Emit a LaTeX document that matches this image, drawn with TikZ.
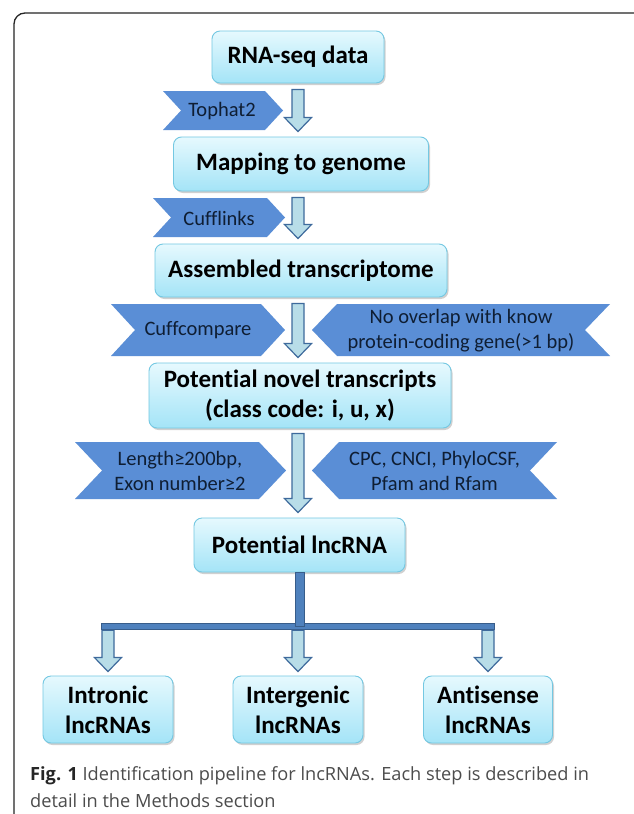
\documentclass[tikz,border=0pt]{standalone}
\usepackage{fontspec}
\setmainfont{Carlito}[Ligatures={NoCommon}]
\newfontfamily\capfont{Open Sans}
\usetikzlibrary{calc,shadows}
\definecolor{boxtop}{HTML}{E6F9FE}
\definecolor{boxbot}{HTML}{A4E4F7}
\definecolor{boxline}{HTML}{74C8E2}
\definecolor{chevfill}{HTML}{5A8ED6}
\definecolor{chevtext}{HTML}{0F1E33}
\definecolor{arrfill}{HTML}{B8DDE8}
\definecolor{arrline}{HTML}{3E6A9C}
\definecolor{barfill}{HTML}{4F81BD}
\definecolor{barline}{HTML}{385D8A}
\tikzset{
  stepbox/.style={draw=boxline, line width=0.9pt, rounded corners=8pt,
    top color=boxtop, bottom color=boxbot, align=center,
    font=\fontsize{25}{30}\selectfont\bfseries, text=black,
    drop shadow={shadow xshift=1.5pt, shadow yshift=-2pt, opacity=0.3, fill=black!60}},
  chevlabel/.style={font=\fontsize{20.5}{25}\selectfont, text=chevtext, align=center, inner sep=0pt},
  chevshape/.style={fill=chevfill},
  blockarr/.style={draw=arrline, fill=arrfill, line width=1.2pt, line join=miter},
  barsty/.style={draw=barline, fill=barfill, line width=1pt},
}
% block arrow: start point, tip point
\newcommand\barrow[2]{\path[blockarr] let \p1=#1, \p2=#2 in
  (\x1-6pt,\y1) -- (\x1+6pt,\y1) -- (\x1+6pt,\y2+14pt) -- (\x1+13.5pt,\y2+14pt)
  -- (\x1,\y2) -- (\x1-13.5pt,\y2+14pt) -- (\x1-6pt,\y2+14pt) -- cycle;}
% right-pointing chevron: x1,x2,yt,yb,depth
\newcommand\chevR[5]{\fill[chevshape] (#1,#3) -- (#2-#5,#3) -- (#2,{(#3+#4)/2}) -- (#2-#5,#4) -- (#1,#4) -- (#1+#5,{(#3+#4)/2}) -- cycle;}
% left-pointing chevron
\newcommand\chevL[5]{\fill[chevshape] (#1+#5,#3) -- (#2,#3) -- (#2-#5,{(#3+#4)/2}) -- (#2,#4) -- (#1+#5,#4) -- (#1,{(#3+#4)/2}) -- cycle;}
\begin{document}
\begin{tikzpicture}[x=1pt,y=-1pt]
\useasboundingbox (0,0) rectangle (633,814);
\fill[white] (0,0) rectangle (633,814);
% frame
\draw[line width=1.3pt, black!85, rounded corners=11pt] (14,820) -- (14,13) -- (645,13);

% main boxes
\node[stepbox, minimum width=172pt, minimum height=52pt] (rna) at (298,57) {RNA-seq data};
\node[stepbox, minimum width=255pt, minimum height=54pt] (map) at (301,164) {Mapping to genome};
\node[stepbox, minimum width=292pt, minimum height=53pt] (asm) at (301,270.5) {Assembled transcriptome};
\node[stepbox, minimum width=302pt, minimum height=65pt] (nov) at (300,395.5) {Potent\kern0pt ial novel transcripts\\(class code: i, u, x)};
\node[stepbox, minimum width=211pt, minimum height=54pt] (lnc) at (299.5,545) {Potent\kern0pt ial lncRNA};
\node[stepbox, minimum width=130pt, minimum height=67pt] (intr) at (108,709.5) {Intronic\\lncRNAs};
\node[stepbox, minimum width=130pt, minimum height=67pt] (intg) at (298,709.5) {Intergenic\\lncRNAs};
\node[stepbox, minimum width=129pt, minimum height=67pt] (anti) at (488,709.5) {Antisense\\lncRNAs};

% chevrons
\chevR{163}{283}{91}{130}{18}
\node[chevlabel] (tophat) at (222,111) {Tophat2};
\chevR{153}{285}{198}{237}{18}
\node[chevlabel] (cufflinks) at (219,218) {Cufflinks};
\chevR{111}{285}{304}{356}{24}
\node[chevlabel] (cuffcompare) at (198,330.5) {Cuffcompare};
\chevL{312}{610}{304}{356}{25}
\node[chevlabel] (nooverlap) at (461,331) {No overlap with know\\protein-coding gene(>1 bp)};
\chevR{75}{286}{442}{499}{27}
\node[chevlabel] (length) at (180,471) {Length≥200bp,\\Exon number≥2};
\chevL{312}{557}{442}{499}{27}
\node[chevlabel] (cpc) at (434.5,471) {CPC, CNCI, PhyloCSF,\\Pfam and Rfam};

% block arrows between steps
\barrow{($(rna.south)+(0,6)$)}{($(map.north)+(0,-5)$)}
\barrow{($(map.south)+(-3,6)$)}{($(asm.north)+(-3,-5)$)}
\barrow{($(asm.south)+(-3,6)$)}{($(nov.north)+(-3,-5)$)}
\barrow{($(nov.south)+(-2,5)$)}{($(lnc.north)+(-2,-5)$)}

% branch
\node[barsty, inner sep=0pt, minimum width=393pt, minimum height=6.5pt] (bar) at (297.5,626.5) {};
\path[barsty] let \p1=(lnc.south), \p2=(bar.center) in (\x1-4.5pt,\y1) rectangle (\x1+4.5pt,\y2);
\barrow{(bar.south -| intr.north)}{($(intr.north)+(0,-4)$)}
\barrow{(bar.south -| intg.north)}{($(intg.north)+(0,-4)$)}
\barrow{(bar.south -| anti.north)}{($(anti.north)+(0,-4)$)}

% caption
\node[anchor=west, align=left, inner sep=0pt, font=\capfont\fontsize{18.2}{27}\selectfont, text=black!70] (cap) at (30,787.5)
  {{\bfseries\color{black!85}Fig. 1} Identification pipeline for lncRNAs. Each step is described in\\detail in the Methods section};
\end{tikzpicture}
\end{document}
